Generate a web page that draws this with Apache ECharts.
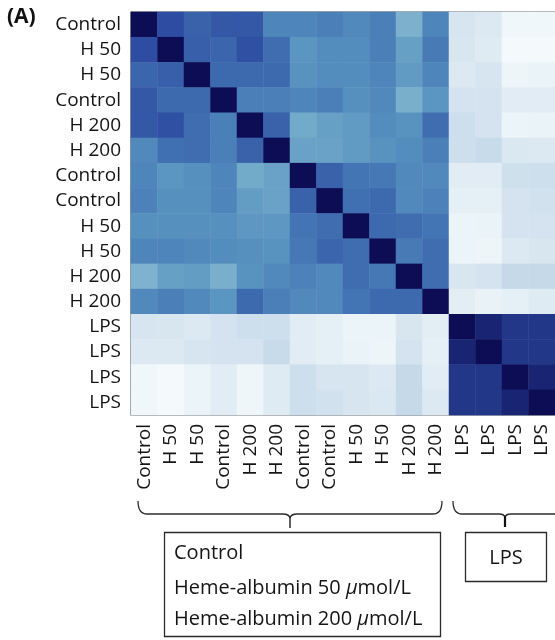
<!DOCTYPE html>
<html>
<head>
<meta charset="utf-8">
<script src="https://cdn.jsdelivr.net/npm/echarts@6/dist/echarts.min.js"></script>
<style>
html,body{margin:0;padding:0;background:#fff;}
#chart{width:555px;height:640px;}
</style>
</head>
<body>
<div id="chart"></div>
<script>
// Sample labels (columns and rows share the same order)
var samples = ['Control','H 50','H 50','Control','H 200','H 200','Control','Control','H 50','H 50','H 200','H 200','LPS','LPS','LPS','LPS'];

// Correlation values, one array per row
var row0  = [1.00,0.89,0.83,0.86,0.86,0.73,0.73,0.75,0.72,0.75,0.56,0.73,0.24,0.21,0.09,0.09];
var row1  = [0.89,1.00,0.84,0.82,0.88,0.80,0.68,0.71,0.71,0.75,0.64,0.76,0.23,0.20,0.03,0.03];
var row2  = [0.82,0.84,1.00,0.81,0.81,0.81,0.69,0.71,0.71,0.73,0.66,0.73,0.21,0.24,0.11,0.13];
var row3  = [0.86,0.81,0.81,1.00,0.75,0.75,0.73,0.75,0.70,0.72,0.57,0.68,0.25,0.25,0.19,0.19];
var row4  = [0.86,0.88,0.80,0.75,1.00,0.83,0.60,0.64,0.66,0.71,0.69,0.80,0.28,0.25,0.12,0.13];
var row5  = [0.72,0.79,0.80,0.75,0.83,1.00,0.63,0.63,0.66,0.69,0.71,0.75,0.28,0.30,0.22,0.21];
var row6  = [0.73,0.68,0.70,0.73,0.60,0.63,1.00,0.83,0.78,0.77,0.72,0.72,0.19,0.19,0.27,0.28];
var row7  = [0.74,0.70,0.70,0.73,0.65,0.63,0.83,1.00,0.79,0.81,0.72,0.74,0.16,0.16,0.25,0.26];
var row8  = [0.70,0.70,0.70,0.70,0.67,0.67,0.78,0.80,1.00,0.81,0.80,0.78,0.12,0.13,0.25,0.25];
var row9  = [0.73,0.73,0.72,0.71,0.70,0.69,0.77,0.82,0.80,1.00,0.76,0.80,0.12,0.11,0.21,0.23];
var row10 = [0.55,0.64,0.65,0.57,0.69,0.72,0.74,0.72,0.80,0.77,1.00,0.80,0.23,0.25,0.31,0.31];
var row11 = [0.72,0.75,0.72,0.68,0.81,0.75,0.72,0.72,0.78,0.81,0.81,1.00,0.18,0.14,0.16,0.20];
var row12 = [0.24,0.23,0.21,0.25,0.28,0.28,0.19,0.16,0.12,0.12,0.23,0.18,1.00,0.96,0.93,0.93];
var row13 = [0.21,0.21,0.24,0.25,0.25,0.30,0.19,0.16,0.13,0.11,0.25,0.16,0.96,1.00,0.93,0.93];
var row14 = [0.09,0.03,0.12,0.19,0.10,0.20,0.28,0.24,0.24,0.21,0.31,0.19,0.93,0.93,1.00,0.96];
var row15 = [0.09,0.03,0.12,0.19,0.10,0.20,0.28,0.26,0.24,0.22,0.31,0.21,0.93,0.93,0.96,1.00];

var rows = [row0,row1,row2,row3,row4,row5,row6,row7,row8,row9,row10,row11,row12,row13,row14,row15];

var heatData = [];
rows.forEach(function (r, yi) {
  r.forEach(function (v, xi) { heatData.push([xi, yi, v]); });
});

var FONT = '"Open Sans", "Noto Sans", sans-serif';
var LINE = '#2b2b2b';

function seg(x1, y1, x2, y2, w, c) {
  return {type: 'line', shape: {x1: x1, y1: y1, x2: x2, y2: y2}, style: {stroke: c || LINE, lineWidth: w || 1.3}};
}
function curve(x1, y1, cx, cy, x2, y2) {
  return {type: 'bezierCurve', shape: {x1: x1, y1: y1, cpx1: cx, cpy1: cy, x2: x2, y2: y2},
          style: {fill: null, stroke: LINE, lineWidth: 1.3}};
}

var chart = echarts.init(document.getElementById('chart'), null, {renderer: 'canvas'});
chart.setOption({
  animation: false,
  backgroundColor: '#fff',
  grid: {left: 131, top: 12, width: 426, height: 403, show: true, borderColor: '#4a4f55', borderWidth: 1.2, backgroundColor: 'transparent'},
  xAxis: {
    type: 'category', data: samples, position: 'bottom',
    axisLine: {show: false}, axisTick: {show: false}, splitLine: {show: false},
    axisLabel: {rotate: 90, interval: 0, margin: 9, fontFamily: FONT, fontSize: 19, color: '#151515'}
  },
  yAxis: {
    type: 'category', data: samples, inverse: true,
    axisLine: {show: false}, axisTick: {show: false}, splitLine: {show: false},
    axisLabel: {interval: 0, margin: 10, fontFamily: FONT, fontSize: 19, color: '#151515'}
  },
  visualMap: {
    show: false, min: 0, max: 1, dimension: 2,
    inRange: {color: ['#f7fcfd','#eef6fa','#dfebf3','#c8dbea','#a8c9de','#8bbad3','#72aac9','#5590bf','#3f6db0','#2c49a0','#0d0d55']}
  },
  series: [{
    type: 'heatmap', data: heatData,
    itemStyle: {borderWidth: 0},
    emphasis: {disabled: true}
  }],
  graphic: [
    {type: 'text', x: 7, y: 7, style: {text: '(A)', font: 'bold 21px ' + FONT, fill: '#111'}},
    // left brace
    curve(138, 501, 138, 514, 147, 514),
    seg(147, 514, 283, 514),
    curve(283, 514, 289, 514, 290, 518),
    curve(290, 518, 291, 514, 297, 514),
    seg(297, 514, 433, 514),
    curve(433, 514, 442, 514, 442, 501),
    seg(290, 517, 290, 528, 1.5),
    // right brace
    curve(453, 501, 453, 514, 462, 514),
    seg(462, 514, 499, 514),
    curve(499, 514, 504, 514, 505, 517),
    curve(505, 517, 506, 514, 511, 514),
    seg(511, 514, 562, 514),
    seg(505, 516, 505, 527, 2.2, '#111'),
    // left box
    {type: 'rect', shape: {x: 164.5, y: 532.5, width: 276, height: 104}, style: {fill: '#fff', stroke: LINE, lineWidth: 1.3}},
    {type: 'text', x: 174, y: 543, style: {text: 'Control', font: '20px ' + FONT, fill: '#151515'}},
    {type: 'text', x: 174, y: 578, style: {
      text: 'Heme-albumin 50 {i|μ}mol/L', font: '20px ' + FONT, fill: '#151515',
      rich: {i: {fontStyle: 'italic', fontFamily: FONT, fontSize: 20, fill: '#151515'}}}},
    {type: 'text', x: 174, y: 609, style: {
      text: 'Heme-albumin 200 {i|μ}mol/L', font: '20px ' + FONT, fill: '#151515',
      rich: {i: {fontStyle: 'italic', fontFamily: FONT, fontSize: 20, fill: '#151515'}}}},
    // right box
    {type: 'rect', shape: {x: 465.5, y: 532.5, width: 81, height: 49}, style: {fill: '#fff', stroke: LINE, lineWidth: 1.3}},
    {type: 'text', x: 506, y: 558, style: {text: 'LPS', font: '20px ' + FONT, fill: '#151515', align: 'center', verticalAlign: 'middle'}}
  ]
});
</script>
</body>
</html>
